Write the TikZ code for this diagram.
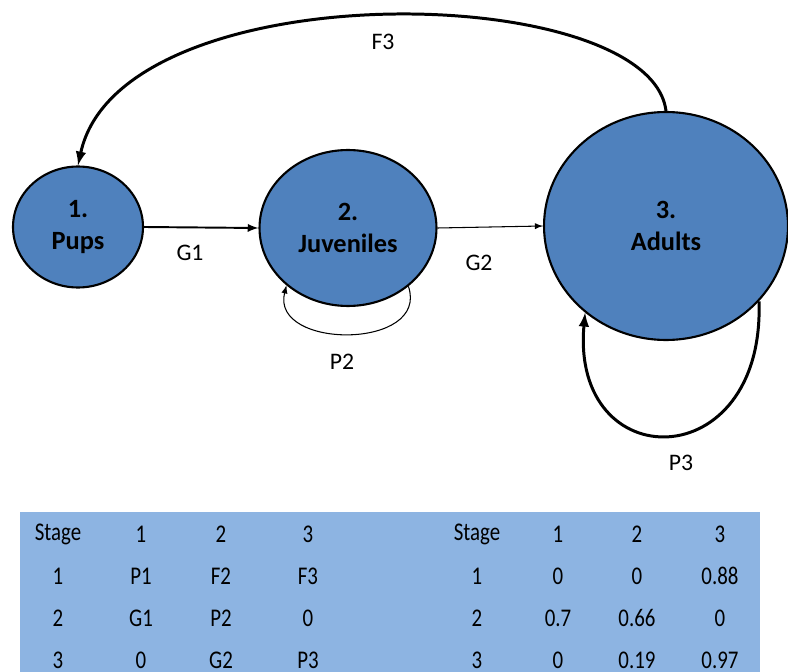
\documentclass[tikz,border=0pt]{standalone}
\usepackage{fontspec}
\setmainfont{Carlito}
\usepackage{tikz}
\usetikzlibrary{arrows,shapes.geometric,positioning}
\definecolor{stageblue}{HTML}{4F81BD}
\definecolor{tableblue}{HTML}{8DB4E2}

\begin{document}
\begin{tikzpicture}[
x=0.02cm,y=-0.02cm,
stage/.style={ellipse,draw=black,line width=1.2pt,fill=stageblue,inner sep=0pt,align=center,
  font=\bfseries\fontsize{15}{18}\selectfont},
rate/.style={font=\fontsize{13.5}{16}\selectfont},
cell/.style={font=\fontsize{14.5}{16}\selectfont,inner sep=0pt},
flow/.style={->,line width=1.1pt},
thinflow/.style={->,line width=0.6pt},
heavyflow/.style={->,line width=1.7pt},
>=latex]
    \useasboundingbox (0,0) rectangle (788,672);

    % Draw stages
    \node[stage,minimum width=2.6cm,minimum height=2.42cm] (pups) at (78,227) {1.\\Pups};
    \node[stage,minimum width=3.54cm,minimum height=3.12cm] (juv) at (348,228) {2.\\Juveniles};
    \node[stage,minimum width=4.88cm,minimum height=4.56cm] (adults) at (666,226) {3.\\Adults};

    % Transitions
    \draw[heavyflow] (adults.north) .. controls (650,-20) and (120,-30) .. (pups.north);
    \draw[flow] (pups.east) -- (juv.west);
    \draw[thinflow] (juv.east) -- (adults.west);
    \draw[thinflow] (juv.-44) .. controls (430,350) and (270,350) .. (juv.-137);
    \draw[heavyflow] (adults.-39) .. controls (765,478) and (570,478) .. (adults.-133);

    \node[rate] (f3) at (383,42) {F3};
    \node[rate] (g1) at (190,253) {G1};
    \node[rate] (g2) at (479,263) {G2};
    \node[rate] (p2) at (342,362) {P2};
    \node[rate] (p3) at (681,463) {P3};

    % Matrices
    \fill[tableblue] (20,512) rectangle (760,672);
    \foreach \row [count=\i] in {{Stage,1,2,3,Stage,1,2,3},{1,P1,F2,F3,1,0,0,0.88},
        {2,G1,P2,0,2,0.7,0.66,0},{3,0,G2,P3,3,0,0.19,0.97}}
      \foreach \entry [count=\j] in \row {
        \pgfmathsetmacro\cx{{58,141,221,308,477,558,637,720}[\j-1]}
        \node[cell] (cell-\i-\j) at (\cx,534+42*\i-42) {\scalebox{0.82}[1]{\entry}};
      }
\end{tikzpicture}
\end{document}
